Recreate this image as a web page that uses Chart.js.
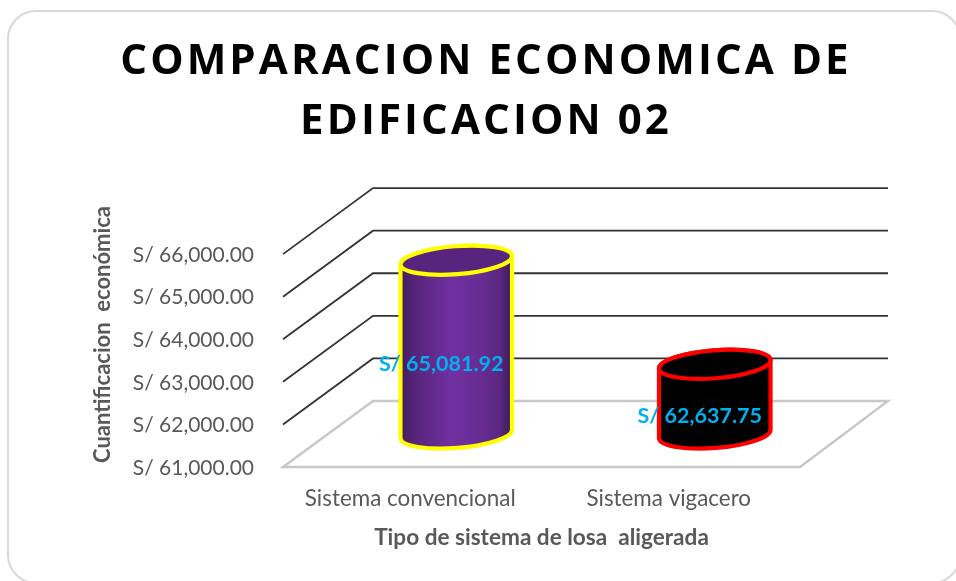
<!DOCTYPE html>
<html>
<head>
<meta charset="utf-8">
<style>html,body{margin:0;padding:0;background:#fff;overflow:hidden}canvas{display:block}</style>
<script src="https://cdn.jsdelivr.net/npm/chart.js@4"></script>
</head>
<body>
<canvas id="c" width="956" height="581"></canvas>
<script>
const categories = ['Sistema convencional', 'Sistema vigacero'];
const seriesValues = [65081.92, 62637.75];
const barFill = ['#7030A0', '#000000'];
const barEdge = ['#FFFF00', '#FF0000'];
const tickValues = [61000, 62000, 63000, 64000, 65000, 66000];
const titleLines = ['COMPARACION ECONOMICA DE', 'EDIFICACION 02'];
const yTitle = 'Cuantificacion  económica';
const xTitle = 'Tipo de sistema de losa  aligerada';

const fmt = v => 'S/ ' + Number(v).toLocaleString('en-US', {minimumFractionDigits: 2, maximumFractionDigits: 2});
const DEPTH_X = 90, DEPTH_Y = -66;
const ROT = -4.5 * Math.PI / 180, RY = 14;

function frame(ctx) {
  ctx.save();
  ctx.fillStyle = '#fff';
  ctx.fillRect(0, 0, 956, 581);
  ctx.beginPath();
  ctx.roundRect(8, 11, 952, 572, 28);
  ctx.strokeStyle = '#d9d9d9';
  ctx.lineWidth = 2;
  ctx.stroke();
  ctx.restore();
}

function walls(chart) {
  const {ctx, chartArea: a, scales: {y}} = chart;
  ctx.save();
  ctx.lineCap = 'butt';
  tickValues.forEach(v => {
    if (v === y.min) return;
    const py = y.getPixelForValue(v);
    ctx.strokeStyle = '#333333';
    ctx.lineWidth = 1.8;
    ctx.beginPath();
    ctx.moveTo(a.left, py);
    ctx.lineTo(a.left + DEPTH_X, py + DEPTH_Y);
    ctx.lineTo(a.right + DEPTH_X - 2, py + DEPTH_Y);
    ctx.stroke();
  });
  const b = y.getPixelForValue(y.min);
  ctx.strokeStyle = '#c8c8c8';
  ctx.lineWidth = 2.4;
  ctx.beginPath();
  ctx.moveTo(a.left, b);
  ctx.lineTo(a.left + DEPTH_X, b + DEPTH_Y);
  ctx.lineTo(a.right + DEPTH_X - 2, b + DEPTH_Y);
  ctx.lineTo(a.right, b);
  ctx.closePath();
  ctx.stroke();
  ctx.restore();
}

function cylinder(ctx, bar, fill, edge) {
  const cx = bar.x + DEPTH_X / 2 - 1;
  const topY = bar.y + DEPTH_Y / 2;
  const botY = bar.base + DEPTH_Y / 2;
  const rx = bar.width / 2;
  const ex = rx * Math.cos(ROT), ey = rx * Math.sin(ROT);
  ctx.save();
  ctx.beginPath();
  ctx.moveTo(cx - ex, topY - ey);
  ctx.ellipse(cx, botY, rx, RY, ROT, Math.PI, 0, true);
  ctx.lineTo(cx + ex, topY + ey);
  ctx.ellipse(cx, topY, rx, RY, ROT, 0, Math.PI, true);
  ctx.closePath();
  ctx.fillStyle = fill;
  ctx.fill();
  const g = ctx.createLinearGradient(cx - rx, 0, cx + rx, 0);
  g.addColorStop(0, 'rgba(0,0,0,.42)');
  g.addColorStop(0.12, 'rgba(0,0,0,.24)');
  g.addColorStop(0.45, 'rgba(0,0,0,0)');
  g.addColorStop(0.65, 'rgba(0,0,0,.05)');
  g.addColorStop(0.88, 'rgba(0,0,0,.18)');
  g.addColorStop(1, 'rgba(0,0,0,.45)');
  ctx.fillStyle = g;
  ctx.fill();
  ctx.strokeStyle = edge;
  ctx.lineWidth = 4.2;
  ctx.lineJoin = 'round';
  ctx.stroke();
  ctx.beginPath();
  ctx.ellipse(cx, topY, rx, RY, ROT, 0, Math.PI * 2);
  ctx.fillStyle = fill;
  ctx.fill();
  ctx.fillStyle = 'rgba(0,0,0,.22)';
  ctx.fill();
  ctx.stroke();
  ctx.restore();
}

const cylinderPlugin = {
  id: 'cylinders',
  beforeDraw(chart) { frame(chart.ctx); },
  afterLayout(chart) {
    if (chart.$wrapped) return;
    chart.$wrapped = true;
    const ctx = chart.ctx;
    const tb = chart.titleBlock, td = tb.draw;
    tb.draw = function () {
      ctx.save();
      ctx.letterSpacing = '3.1px';
      const l = this.left, r = this.right;
      this.left = 0; this.right = 972;
      td.apply(this, arguments);
      this.left = l; this.right = r;
      ctx.restore();
    };
    const ys = chart.scales.y, yd = ys.drawTitle;
    ys.drawTitle = function () {
      ctx.save();
      ctx.translate(0, -26);
      yd.apply(this, arguments);
      ctx.restore();
    };
  },
  beforeDatasetsDraw(chart) { walls(chart); },
  beforeDatasetDraw(chart, args) {
    const ds = chart.data.datasets[args.index];
    args.meta.data.forEach((bar, i) => cylinder(chart.ctx, bar, ds.backgroundColor[i], ds.borderColor[i]));
    return false;
  },
  afterDatasetsDraw(chart) {
    const ctx = chart.ctx, meta = chart.getDatasetMeta(0);
    const ds = chart.data.datasets[0];
    ctx.save();
    ctx.font = 'bold 21.5px Lato';
    ctx.fillStyle = '#00B0F0';
    ctx.textAlign = 'center';
    ctx.textBaseline = 'middle';
    meta.data.forEach((bar, i) => {
      const midY = (bar.y + bar.base) / 2;
      ctx.fillText(fmt(ds.data[i]), bar.x + DEPTH_X / 2 - 16, midY - 16);
    });
    ctx.restore();
  }
};

new Chart(document.getElementById('c'), {
  type: 'bar',
  data: {
    labels: categories,
    datasets: [{
      data: seriesValues,
      base: tickValues[0],
      backgroundColor: barFill,
      borderColor: barEdge,
      barPercentage: 0.433,
      categoryPercentage: 1
    }]
  },
  plugins: [cylinderPlugin],
  options: {
    responsive: false,
    animation: false,
    layout: {padding: {left: 90, right: 156, top: 32, bottom: 30}},
    plugins: {
      legend: {display: false},
      tooltip: {enabled: false},
      title: {
        display: true,
        text: titleLines,
        color: '#000000',
        font: {family: 'Open Sans', size: 42, weight: 'bold', lineHeight: 1.43},
        padding: {top: 0, bottom: 102}
      }
    },
    scales: {
      x: {
        grid: {display: false, drawTicks: false},
        border: {display: false},
        ticks: {color: '#595959', font: {family: 'Lato', size: 22.4}, padding: 18, maxRotation: 0, labelOffset: -2},
        title: {display: true, text: xTitle, color: '#595959', font: {family: 'Lato', size: 22.6, weight: 'bold'}, padding: 0},
        afterFit(s) { s.height = 84; }
      },
      y: {
        min: 61000,
        max: 66000,
        grid: {display: false, drawTicks: false},
        border: {display: false},
        ticks: {
          color: '#595959',
          font: {family: 'Lato', size: 21},
          padding: 29,
          stepSize: 1000,
          labelOffset: 1,
          callback: v => fmt(v)
        },
        title: {display: true, text: yTitle, color: '#595959', font: {family: 'Lato', size: 22, weight: 'bold'}, padding: 0},
        afterFit(s) { s.width = 193; }
      }
    }
  }
});
</script>
</body>
</html>
